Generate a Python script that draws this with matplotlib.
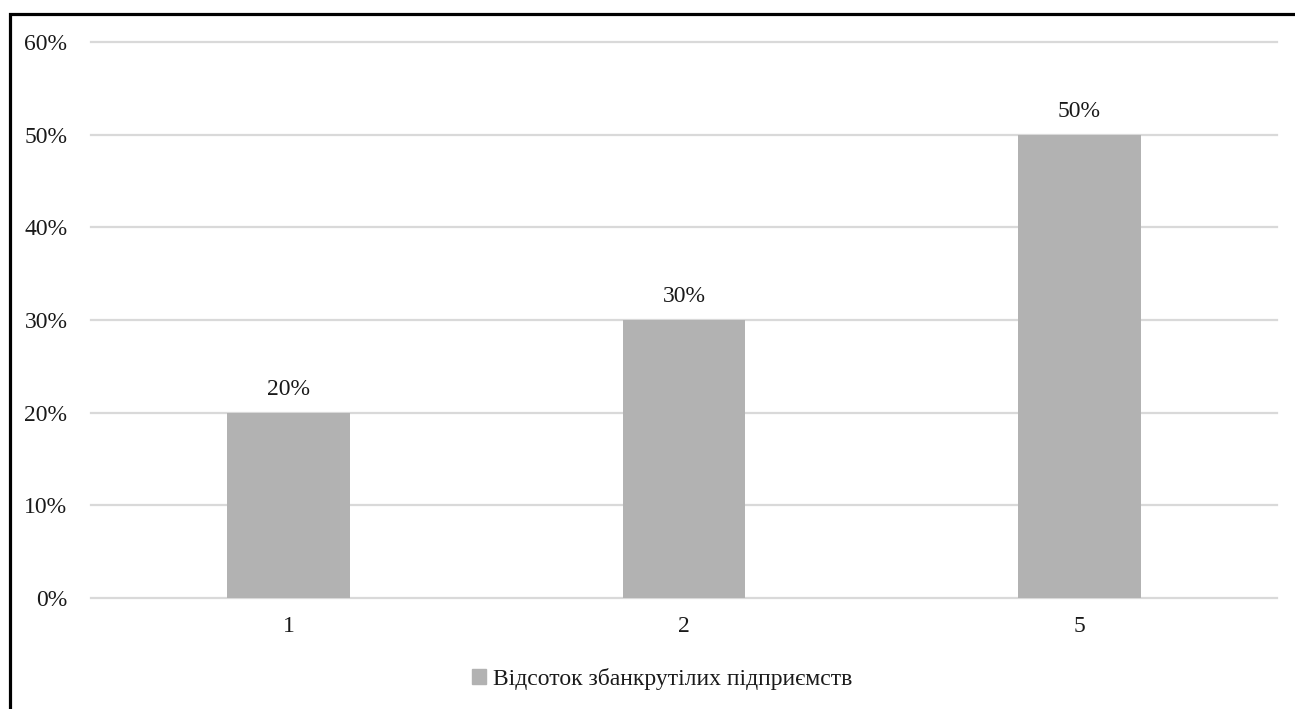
import matplotlib
matplotlib.use("Agg")
import matplotlib.pyplot as plt
from matplotlib.patches import Rectangle, Patch
from matplotlib.ticker import PercentFormatter

categories = ["1", "2", "5"]
values = [20, 30, 50]
series_name = "Відсоток збанкрутілих підприємств"
y_ticks = [0, 10, 20, 30, 40, 50, 60]

plt.rcParams["font.family"] = ["Liberation Serif", "DejaVu Serif"]
bar_color = "#b2b2b2"
grid_color = "#d9d9d9"
text_color = "#1a1a1a"
fs = 17

fig = plt.figure(figsize=(12.95, 7.09), dpi=100)
ax = fig.add_axes([91 / 1295, 1 - 598 / 709, (1277 - 91) / 1295, (598 - 42) / 709])

x = list(range(len(categories)))
ax.bar(x, values, width=0.31, color=bar_color, zorder=3, label=series_name)
for xi, v in zip(x, values):
    ax.annotate(f"{v}%", (xi, v), xytext=(0, 9), textcoords="offset points",
                ha="center", va="bottom", fontsize=fs, color=text_color)

ax.set_xlim(-0.5, len(categories) - 0.5)
ax.set_ylim(0, 60)
ax.set_yticks(y_ticks)
ax.yaxis.set_major_formatter(PercentFormatter(decimals=0))
ax.set_xticks(x)
ax.set_xticklabels(categories)
ax.tick_params(axis="both", length=0, labelsize=fs, colors=text_color)
ax.tick_params(axis="y", pad=17)
ax.tick_params(axis="x", pad=13)
ax.grid(axis="y", color=grid_color, linewidth=1.6, zorder=0)
for gl in ax.get_ygridlines():
    gl.set_clip_on(False)
for s in ax.spines.values():
    s.set_visible(False)

ax.legend(handles=[Patch(color=bar_color, label=series_name)], loc="center",
          bbox_to_anchor=(662 / 1295, 1 - 679 / 709), bbox_transform=fig.transFigure,
          frameon=False, fontsize=fs, handlelength=0.6, handleheight=0.6,
          handletextpad=0.3, labelcolor=text_color)

# frame around the whole chart (right and bottom edges run past the canvas)
fig.patches.append(Rectangle((9.5 / 1295, -0.05), 1.05, 1 - 13.5 / 709 + 0.05,
                             transform=fig.transFigure, fill=False,
                             edgecolor="black", linewidth=2.3))

fig.savefig("out.png", dpi=100)
